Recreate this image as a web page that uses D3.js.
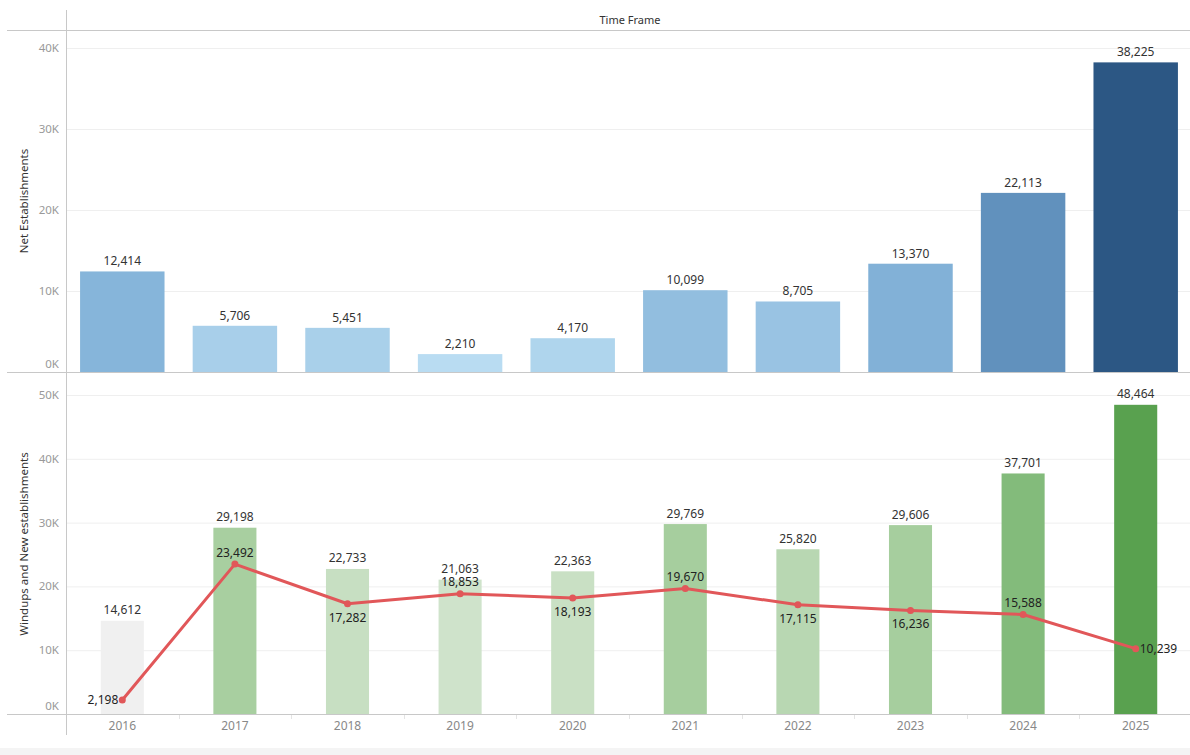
<!DOCTYPE html>
<html>
<head>
<meta charset="utf-8">
<script src="https://cdn.jsdelivr.net/npm/d3@7/dist/d3.min.js"></script>
<style>
  html, body { margin: 0; padding: 0; background: #fff; }
  svg { display: block; font-family: "Noto Sans", "Open Sans", sans-serif; }
</style>
</head>
<body>
<svg id="chart" width="1190" height="755"></svg>
<script>
// ---- data ----
const years = ["2016","2017","2018","2019","2020","2021","2022","2023","2024","2025"];
const netEstablishments = [12414, 5706, 5451, 2210, 4170, 10099, 8705, 13370, 22113, 38225];
const newEstablishments = [14612, 29198, 22733, 21063, 22363, 29769, 25820, 29606, 37701, 48464];
const windups = [2198, 23492, 17282, 18853, 18193, 19670, 17115, 16236, 15588, 10239];
const windupLabelSide = ["left","above","below","above","below","above","below","below","above","right"];
const topTicks = [0, 10000, 20000, 30000, 40000];
const bottomTicks = [0, 10000, 20000, 30000, 40000, 50000];

const svg = d3.select("#chart");
const W = 1190, H = 755;
const axisX = 66, leftEdge = 7, rightEdge = 1190;

const x = d3.scaleBand().domain(years).range([axisX, 1192]).paddingInner(0.25).paddingOuter(0.125);

const yTop = d3.scaleLinear().domain([0, 40000]).range([372, 48]);
const yBot = d3.scaleLinear().domain([0, 50000]).range([714, 395]);

const blue = d3.scaleLinear()
  .domain([2210, 12414, 22113, 38225])
  .range(["#b9dcf2", "#86b5da", "#6191bd", "#2c5784"]);
const green = d3.scaleLinear()
  .domain([21063, 29198, 37701, 48464])
  .range(["#cfe3cb", "#a8cfa0", "#83bb7b", "#59a14f"]);

const fmt = d3.format(",");
const kfmt = d => (d / 1000) + "K";
const FS = 12;

// bottom grey strip
svg.append("rect").attr("x", 0).attr("y", 748).attr("width", W).attr("height", H - 748).attr("fill", "#f4f4f4");

// gridlines
const grid = svg.append("g");
grid.selectAll("line.gt").data(topTicks.filter(d => d > 0)).join("line")
  .attr("class", "gt")
  .attr("x1", axisX).attr("x2", rightEdge)
  .attr("y1", d => yTop(d) + 0.5).attr("y2", d => yTop(d) + 0.5)
  .attr("stroke", "#efefef").attr("stroke-width", 1);
grid.selectAll("line.gb").data(bottomTicks.filter(d => d > 0)).join("line")
  .attr("class", "gb")
  .attr("x1", axisX).attr("x2", rightEdge)
  .attr("y1", d => yBot(d) + 0.5).attr("y2", d => yBot(d) + 0.5)
  .attr("stroke", "#efefef").attr("stroke-width", 1);

// header
svg.append("text").attr("x", 630).attr("y", 24).attr("text-anchor", "middle")
  .attr("font-size", 11).attr("fill", "#333").text("Time Frame");
svg.append("line").attr("x1", leftEdge).attr("x2", rightEdge).attr("y1", 30.5).attr("y2", 30.5)
  .attr("stroke", "#c8c8c8");

// top bars
svg.append("g").selectAll("rect").data(years).join("rect")
  .attr("x", d => x(d))
  .attr("width", x.bandwidth())
  .attr("y", (d, i) => yTop(netEstablishments[i]))
  .attr("height", (d, i) => yTop(0) - yTop(netEstablishments[i]))
  .attr("fill", (d, i) => blue(netEstablishments[i]));

svg.append("g").selectAll("text").data(years).join("text")
  .attr("x", d => x(d) + x.bandwidth() / 2)
  .attr("y", (d, i) => yTop(netEstablishments[i]) - 6)
  .attr("text-anchor", "middle").attr("font-size", FS).attr("fill", "#333")
  .text((d, i) => fmt(netEstablishments[i]));

// bottom bars
const bw = x.bandwidth() * 0.51;
svg.append("g").selectAll("rect").data(years).join("rect")
  .attr("x", d => x(d) + (x.bandwidth() - bw) / 2)
  .attr("width", bw)
  .attr("y", (d, i) => yBot(newEstablishments[i]))
  .attr("height", (d, i) => yBot(0) - yBot(newEstablishments[i]))
  .attr("fill", (d, i) => i === 0 ? "#f0f0f0" : green(newEstablishments[i]));

svg.append("g").selectAll("text").data(years).join("text")
  .attr("x", d => x(d) + x.bandwidth() / 2)
  .attr("y", (d, i) => yBot(newEstablishments[i]) - 6.5)
  .attr("text-anchor", "middle").attr("font-size", FS).attr("fill", "#333")
  .text((d, i) => fmt(newEstablishments[i]));

// axes lines
svg.append("line").attr("x1", leftEdge).attr("x2", rightEdge).attr("y1", 372.5).attr("y2", 372.5).attr("stroke", "#c8c8c8");
svg.append("line").attr("x1", leftEdge).attr("x2", rightEdge).attr("y1", 714.5).attr("y2", 714.5).attr("stroke", "#c8c8c8");
svg.append("line").attr("x1", axisX + 0.5).attr("x2", axisX + 0.5).attr("y1", 10).attr("y2", 735).attr("stroke", "#c8c8c8");

// category separator ticks
svg.append("g").selectAll("line").data(years.slice(1)).join("line")
  .attr("x1", d => Math.round(x(d) - x.step() * x.paddingInner() / 2) + 0.5)
  .attr("x2", d => Math.round(x(d) - x.step() * x.paddingInner() / 2) + 0.5)
  .attr("y1", 715).attr("y2", 719).attr("stroke", "#e4e4e4");

// windups line
const cx = d => x(d) + x.bandwidth() / 2;
const line = d3.line().x((d, i) => cx(years[i])).y(d => yBot(d));
svg.append("path").datum(windups).attr("d", line)
  .attr("fill", "none").attr("stroke", "#e15759").attr("stroke-width", 3).attr("stroke-linejoin", "round");
svg.append("g").selectAll("circle").data(windups).join("circle")
  .attr("cx", (d, i) => cx(years[i])).attr("cy", d => yBot(d)).attr("r", 3.5).attr("fill", "#e15759");
svg.append("g").selectAll("text").data(windups).join("text")
  .attr("x", (d, i) => {
    const s = windupLabelSide[i];
    return cx(years[i]) + (s === "left" ? -4 : s === "right" ? 4 : 0);
  })
  .attr("y", (d, i) => {
    const s = windupLabelSide[i];
    return yBot(d) + (s === "above" ? -7.5 : s === "below" ? 18 : 4.5);
  })
  .attr("text-anchor", (d, i) => {
    const s = windupLabelSide[i];
    return s === "left" ? "end" : s === "right" ? "start" : "middle";
  })
  .attr("font-size", FS).attr("fill", "#222")
  .text(d => fmt(d));

// y tick labels (zero label nudged up inside the pane)
svg.append("g").selectAll("text").data(topTicks).join("text")
  .attr("x", 59).attr("y", d => yTop(d) + (d === 0 ? -4 : 4)).attr("text-anchor", "end")
  .attr("font-size", 11.5).attr("fill", "#999").text(kfmt);
svg.append("g").selectAll("text").data(bottomTicks).join("text")
  .attr("x", 59).attr("y", d => yBot(d) + (d === 0 ? -4 : 4)).attr("text-anchor", "end")
  .attr("font-size", 11.5).attr("fill", "#999").text(kfmt);

// x labels
svg.append("g").selectAll("text").data(years).join("text")
  .attr("x", d => cx(d)).attr("y", 730).attr("text-anchor", "middle")
  .attr("font-size", FS).attr("fill", "#888").text(d => d);

// axis titles
svg.append("text").attr("transform", "translate(28,201) rotate(-90)").attr("text-anchor", "middle")
  .attr("font-size", 11.5).attr("fill", "#333").text("Net Establishments");
svg.append("text").attr("transform", "translate(28,544) rotate(-90)").attr("text-anchor", "middle")
  .attr("font-size", 11.5).attr("fill", "#333").text("Windups and New establishments");
</script>
</body>
</html>
